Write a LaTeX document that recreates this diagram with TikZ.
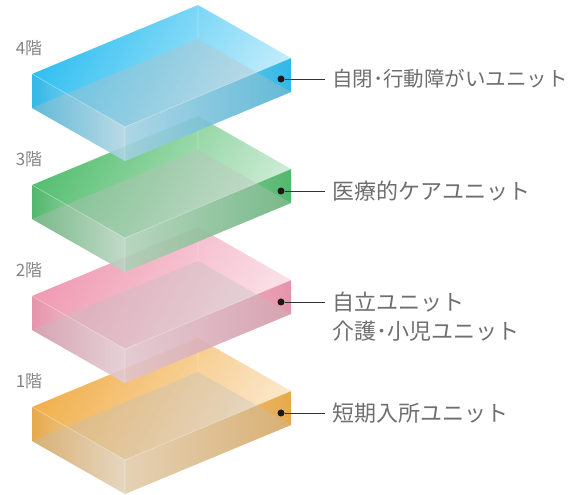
\documentclass[tikz,border=0pt]{standalone}
\usepackage{fontspec}
\setmainfont{Noto Sans CJK JP}
\usetikzlibrary{positioning}
\definecolor{blueslab}{HTML}{1DB9F0}
\definecolor{greenslab}{HTML}{44B862}
\definecolor{pinkslab}{HTML}{EE90AA}
\definecolor{orangeslab}{HTML}{F0A83C}
\definecolor{labelgray}{HTML}{6E6E6E}
\tikzset{
  floorlabel/.style={font=\fontsize{17}{20}\selectfont, text=labelgray!85!white},
  unitlabel/.style={font=\fontsize{22}{29}\selectfont, text=labelgray, anchor=west, inner xsep=7pt, inner ysep=0pt, align=left},
  unitdot/.style={circle, fill=black!90, inner sep=0pt, minimum size=7pt},
  unitline/.style={black!80, line width=0.8pt}
}

\begin{document}
\begin{tikzpicture}[x=1pt,y=1pt]
\useasboundingbox (0,0) rectangle (573,495);
	% Slabs, ground floor first
\foreach \k/\c in {3/orangeslab, 2/pinkslab, 1/greenslab, 0/blueslab}{
\begin{scope}[yshift=-111*\k, transparency group, opacity=0.9]
\coordinate (B) at (198,490);
\coordinate (L) at (32,421);
\coordinate (F) at (125,368);
\coordinate (R) at (291,437);
\coordinate (Bb) at (198,456);
\coordinate (Lb) at (32,387);
\coordinate (Fb) at (125,334);
\coordinate (Rb) at (291,403);
\shade [top color=\c, middle color=\c!95!white, bottom color=\c!30!white, shading angle=60] (L) -- (B) -- (R) -- (F) -- cycle;
\shade [left color=\c!95!black, middle color=\c!92!black, right color=\c!35!white] (L) -- (F) -- (Fb) -- (Lb) -- cycle;
\shade [left color=\c!45!white, middle color=\c!95!black, right color=\c!95!black] (F) -- (R) -- (Rb) -- (Fb) -- cycle;
\fill [white!72!black, fill opacity=0.35] (Lb) -- (Bb) -- (Rb) -- (Fb) -- cycle;
\draw [white, opacity=0.3, line width=0.6pt] (L) -- (F) -- (R) (F) -- (Fb) (B) -- (Bb);
\end{scope}
}
	% Floor labels
\node [floorlabel] (f4) at (29,447) {4階};
\node [floorlabel] (f3) at (29,336) {3階};
\node [floorlabel] (f2) at (29,225) {2階};
\node [floorlabel] (f1) at (29,114) {1階};
	% Unit labels
\node [unitdot] (d4) at (281,416) {};
\node [unitdot] (d3) at (281,304) {};
\node [unitdot] (d2) at (281,193) {};
\node [unitdot] (d1) at (281,82) {};
\node [unitlabel, font=\fontsize{20.5}{29}\selectfont] (u4) at (325,416) {自閉･行動障がいユニット};
\node [unitlabel] (u3) at (325,304) {医療的ケアユニット};
\node [unitlabel] (u2) at (325,178) {自立ユニット\\介護･小児ユニット};
\node [unitlabel] (u1) at (325,82) {短期入所ユニット};
\draw [unitline] (d4) -- (u4.west);
\draw [unitline] (d3) -- (u3.west);
\draw [unitline] (d2) -- (d2 -| u2.west);
\draw [unitline] (d1) -- (u1.west);
\end{tikzpicture}
\end{document}
